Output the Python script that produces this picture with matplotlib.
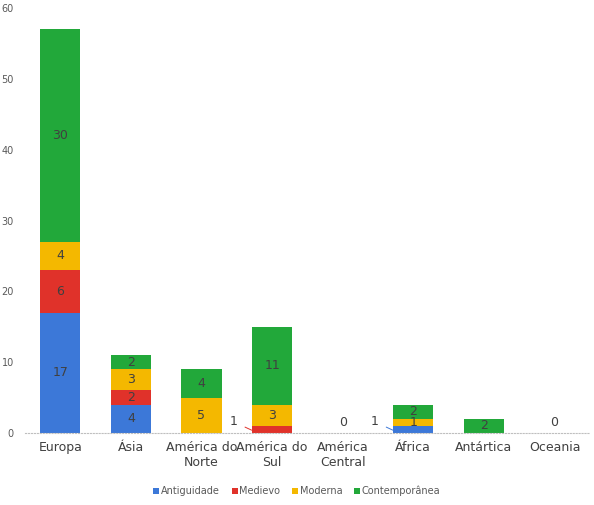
import matplotlib.pyplot as plt
import numpy as np

continentes = ["Europa", "Ásia", "América do\nNorte", "América do\nSul",
               "América\nCentral", "África", "Antártica", "Oceania"]
periodos = ["Antiguidade", "Medievo", "Moderna", "Contemporânea"]
cores = ["#3c78d8", "#e0322a", "#f4b800", "#22a83a"]

antiguidade = [17, 4, 0, 0, 0, 1, 0, 0]
medievo = [6, 2, 0, 1, 0, 0, 0, 0]
moderna = [4, 3, 5, 3, 0, 1, 0, 0]
contemporanea = [30, 2, 4, 11, 0, 2, 2, 0]
series = [antiguidade, medievo, moderna, contemporanea]

fig = plt.figure(figsize=(5.94, 5.05), dpi=100)
ax = fig.add_axes([0.042, 0.1426, 0.951, 0.8414])
x = np.arange(len(continentes))
base = np.zeros(len(continentes))
for nome, vals, cor in zip(periodos, series, cores):
    vals = np.array(vals)
    ax.bar(x, vals, 0.57, bottom=base, color=cor, label=nome)
    for i, v in enumerate(vals):
        if v == 0:
            continue
        if v == 1 and nome in ("Antiguidade", "Medievo"):
            # rótulo fora da barra com linha de chamada
            ax.annotate("1", xy=(i - 0.29, base[i] + 0.4), xytext=(i - 0.55, base[i] + 1.6),
                        ha="center", va="center", fontsize=9, color="#404040",
                        arrowprops=dict(arrowstyle="-", color=cor, lw=0.7, shrinkA=4, shrinkB=0))
        else:
            ax.text(i, base[i] + v / 2, str(v), ha="center", va="center",
                    fontsize=9, color="#404040")
    base += vals

for i, total in enumerate(base):
    if total == 0:
        ax.text(i, 0.5, "0", ha="center", va="bottom", fontsize=9, color="#404040")

ax.set_xlim(-0.5, len(continentes) - 0.5)
ax.set_ylim(0, 60)
ax.set_yticks(range(0, 61, 10))
ax.set_xticks(x)
ax.set_xticklabels(continentes, fontsize=9, color="#404040")
ax.tick_params(axis="y", labelsize=7, colors="#595959", length=0, pad=8)
ax.tick_params(axis="x", length=0, pad=6)
for s in ["top", "right", "left"]:
    ax.spines[s].set_visible(False)
ax.spines["bottom"].set_color("#bfbfbf")
ax.spines["bottom"].set_linestyle(":")

fig.legend(loc="lower center", bbox_to_anchor=(0.5, 0.0), ncol=4, frameon=False,
           fontsize=7, handlelength=0.6, handleheight=0.6, handletextpad=0.2,
           columnspacing=1.2, labelcolor="#595959")
fig.savefig("out.png", dpi=100)
